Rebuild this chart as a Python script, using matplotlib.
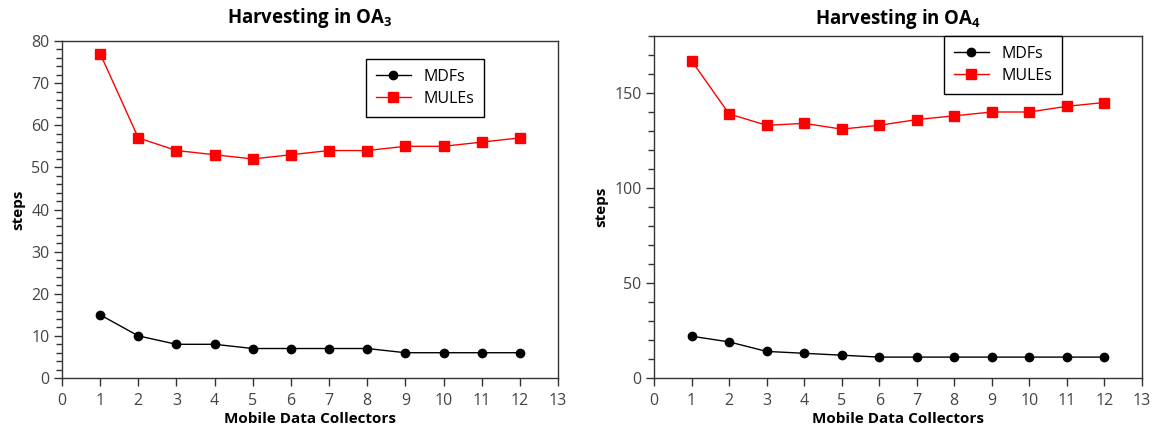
import matplotlib
matplotlib.use("Agg")
import matplotlib.pyplot as plt
from matplotlib.ticker import MultipleLocator

plt.rcParams['font.family'] = ['Open Sans', 'DejaVu Sans']
plt.rcParams['mathtext.fontset'] = 'custom'
plt.rcParams['mathtext.rm'] = 'Open Sans'
plt.rcParams['mathtext.bf'] = 'Open Sans:bold'

collectors = [1, 2, 3, 4, 5, 6, 7, 8, 9, 10, 11, 12]
oa3_mdfs = [15, 10, 8, 8, 7, 7, 7, 7, 6, 6, 6, 6]
oa3_mules = [77, 57, 54, 53, 52, 53, 54, 54, 55, 55, 56, 57]
oa4_mdfs = [22, 19, 14, 13, 12, 11, 11, 11, 11, 11, 11, 11]
oa4_mules = [167, 139, 133, 134, 131, 133, 136, 138, 140, 140, 143, 145]
titles = [r"Harvesting in OA$_\mathbf{3}$", r"Harvesting in OA$_\mathbf{4}$"]

fig = plt.figure(figsize=(11.56, 4.30), dpi=100)
ax1 = fig.add_axes([62/1156, 1-378/430, (558-62)/1156, (378-41)/430])
ax2 = fig.add_axes([654/1156, 1-378/430, (1142-654)/1156, (378-36)/430])

specs = [
    (ax1, oa3_mdfs, oa3_mules, titles[0], (0, 80), 10, 2, (484/1156, 1-59/430), 13),
    (ax2, oa4_mdfs, oa4_mules, titles[1], (0, 180), 50, 10, (1062/1156, 1-36/430), 9),
]

for ax, mdfs, mules, title, ylim, major, minor, legpos, tpad in specs:
    ax.plot(collectors, mdfs, color='black', marker='o', markersize=6, linewidth=1, label='MDFs')
    ax.plot(collectors, mules, color='#ff0000', marker='s', markersize=7, linewidth=1, label='MULEs')
    ax.set_xlim(0, 13)
    ax.set_ylim(*ylim)
    ax.xaxis.set_major_locator(MultipleLocator(1))
    ax.yaxis.set_major_locator(MultipleLocator(major))
    ax.yaxis.set_minor_locator(MultipleLocator(minor))
    ax.tick_params(axis='both', which='major', direction='out', length=6, width=1,
                   labelsize=11.5, labelcolor='#444444', color='#333333')
    ax.tick_params(axis='x', which='major', pad=5)
    ax.tick_params(axis='y', which='major', pad=3)
    ax.tick_params(axis='y', which='minor', direction='out', length=4, width=1, color='#333333')
    for s in ax.spines.values():
        s.set_color('#333333')
        s.set_linewidth(1)
    ax.set_title(title, fontsize=13.4, fontweight='bold', pad=tpad)
    ax.set_xlabel('Mobile Data Collectors', fontsize=11, fontweight='bold', labelpad=2)
    ax.set_ylabel('steps', fontsize=11, fontweight='bold', labelpad=4)
    leg = ax.legend(loc='upper right', bbox_to_anchor=legpos, bbox_transform=fig.transFigure,
                    fancybox=False, edgecolor='black', framealpha=1, fontsize=11.5,
                    borderpad=0.6, handlelength=2.2, labelspacing=0.4, borderaxespad=0)
    leg.get_frame().set_linewidth(1)

fig.savefig('out.png', dpi=100)
